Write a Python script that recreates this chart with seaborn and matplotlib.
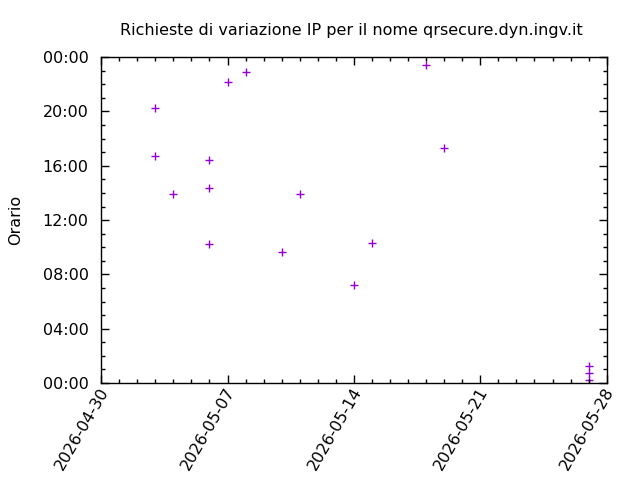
import pandas as pd
import matplotlib
matplotlib.use("Agg")
import matplotlib.pyplot as plt
import matplotlib.dates as mdates
import matplotlib.transforms as mtransforms
from matplotlib.ticker import MultipleLocator, FuncFormatter
import seaborn as sns

# days of the IP change and time of day (hours)
dates = ["2026-05-03", "2026-05-03", "2026-05-04", "2026-05-06", "2026-05-06",
         "2026-05-06", "2026-05-07", "2026-05-08", "2026-05-10", "2026-05-11",
         "2026-05-14", "2026-05-15", "2026-05-18", "2026-05-19",
         "2026-05-27", "2026-05-27", "2026-05-27"]
hours = [20.23, 16.69, 13.90, 16.40, 14.36,
         10.21, 22.14, 22.88, 9.62, 13.90,
         7.22, 10.29, 23.39, 17.28,
         1.25, 0.71, 0.24]

df = pd.DataFrame({"data": pd.to_datetime(dates), "ora": hours})

fig = plt.figure(figsize=(6.4, 4.8), dpi=100)
ax = fig.add_axes([0.158, 0.202, 0.790, 0.679])

sns.scatterplot(data=df, x="data", y="ora", marker="+", color="#9400D3",
                s=38, linewidth=1, ax=ax, legend=False)

ax.set_xlim(pd.Timestamp("2026-04-30"), pd.Timestamp("2026-05-28"))
ax.set_ylim(0, 24)

ax.xaxis.set_major_locator(mdates.DayLocator(bymonthday=[7, 14, 21, 28, 30]))
ax.xaxis.set_major_formatter(mdates.DateFormatter("%Y-%m-%d"))
ax.xaxis.set_minor_locator(mdates.DayLocator())
ax.yaxis.set_major_locator(MultipleLocator(4))
ax.yaxis.set_minor_locator(MultipleLocator(1))
ax.yaxis.set_major_formatter(FuncFormatter(lambda v, p: f"{int(round(v)) % 24:02d}:00"))

ax.tick_params(which="both", direction="in", top=True, right=True, labelsize=11.5, width=1)
ax.tick_params(which="major", length=6)
ax.tick_params(which="minor", length=3)
ax.tick_params(axis="y", which="major", pad=9)
ax.tick_params(axis="x", which="major", pad=4)
shift = mtransforms.ScaledTranslation(4 / 100, 0, fig.dpi_scale_trans)
for lab in ax.get_xticklabels():
    lab.set_rotation(60)
    lab.set_ha("right")
    lab.set_va("center")
    lab.set_rotation_mode("anchor")
    lab.set_transform(lab.get_transform() + shift)

for sp in ax.spines.values():
    sp.set_linewidth(1)

ax.set_xlabel("")
ax.set_ylabel("Orario", fontsize=11.5, labelpad=14)
ax.set_title("Richieste di variazione IP per il nome qrsecure.dyn.ingv.it",
             fontsize=11.5, pad=16, x=0.495)

fig.savefig("out.png", dpi=100)
